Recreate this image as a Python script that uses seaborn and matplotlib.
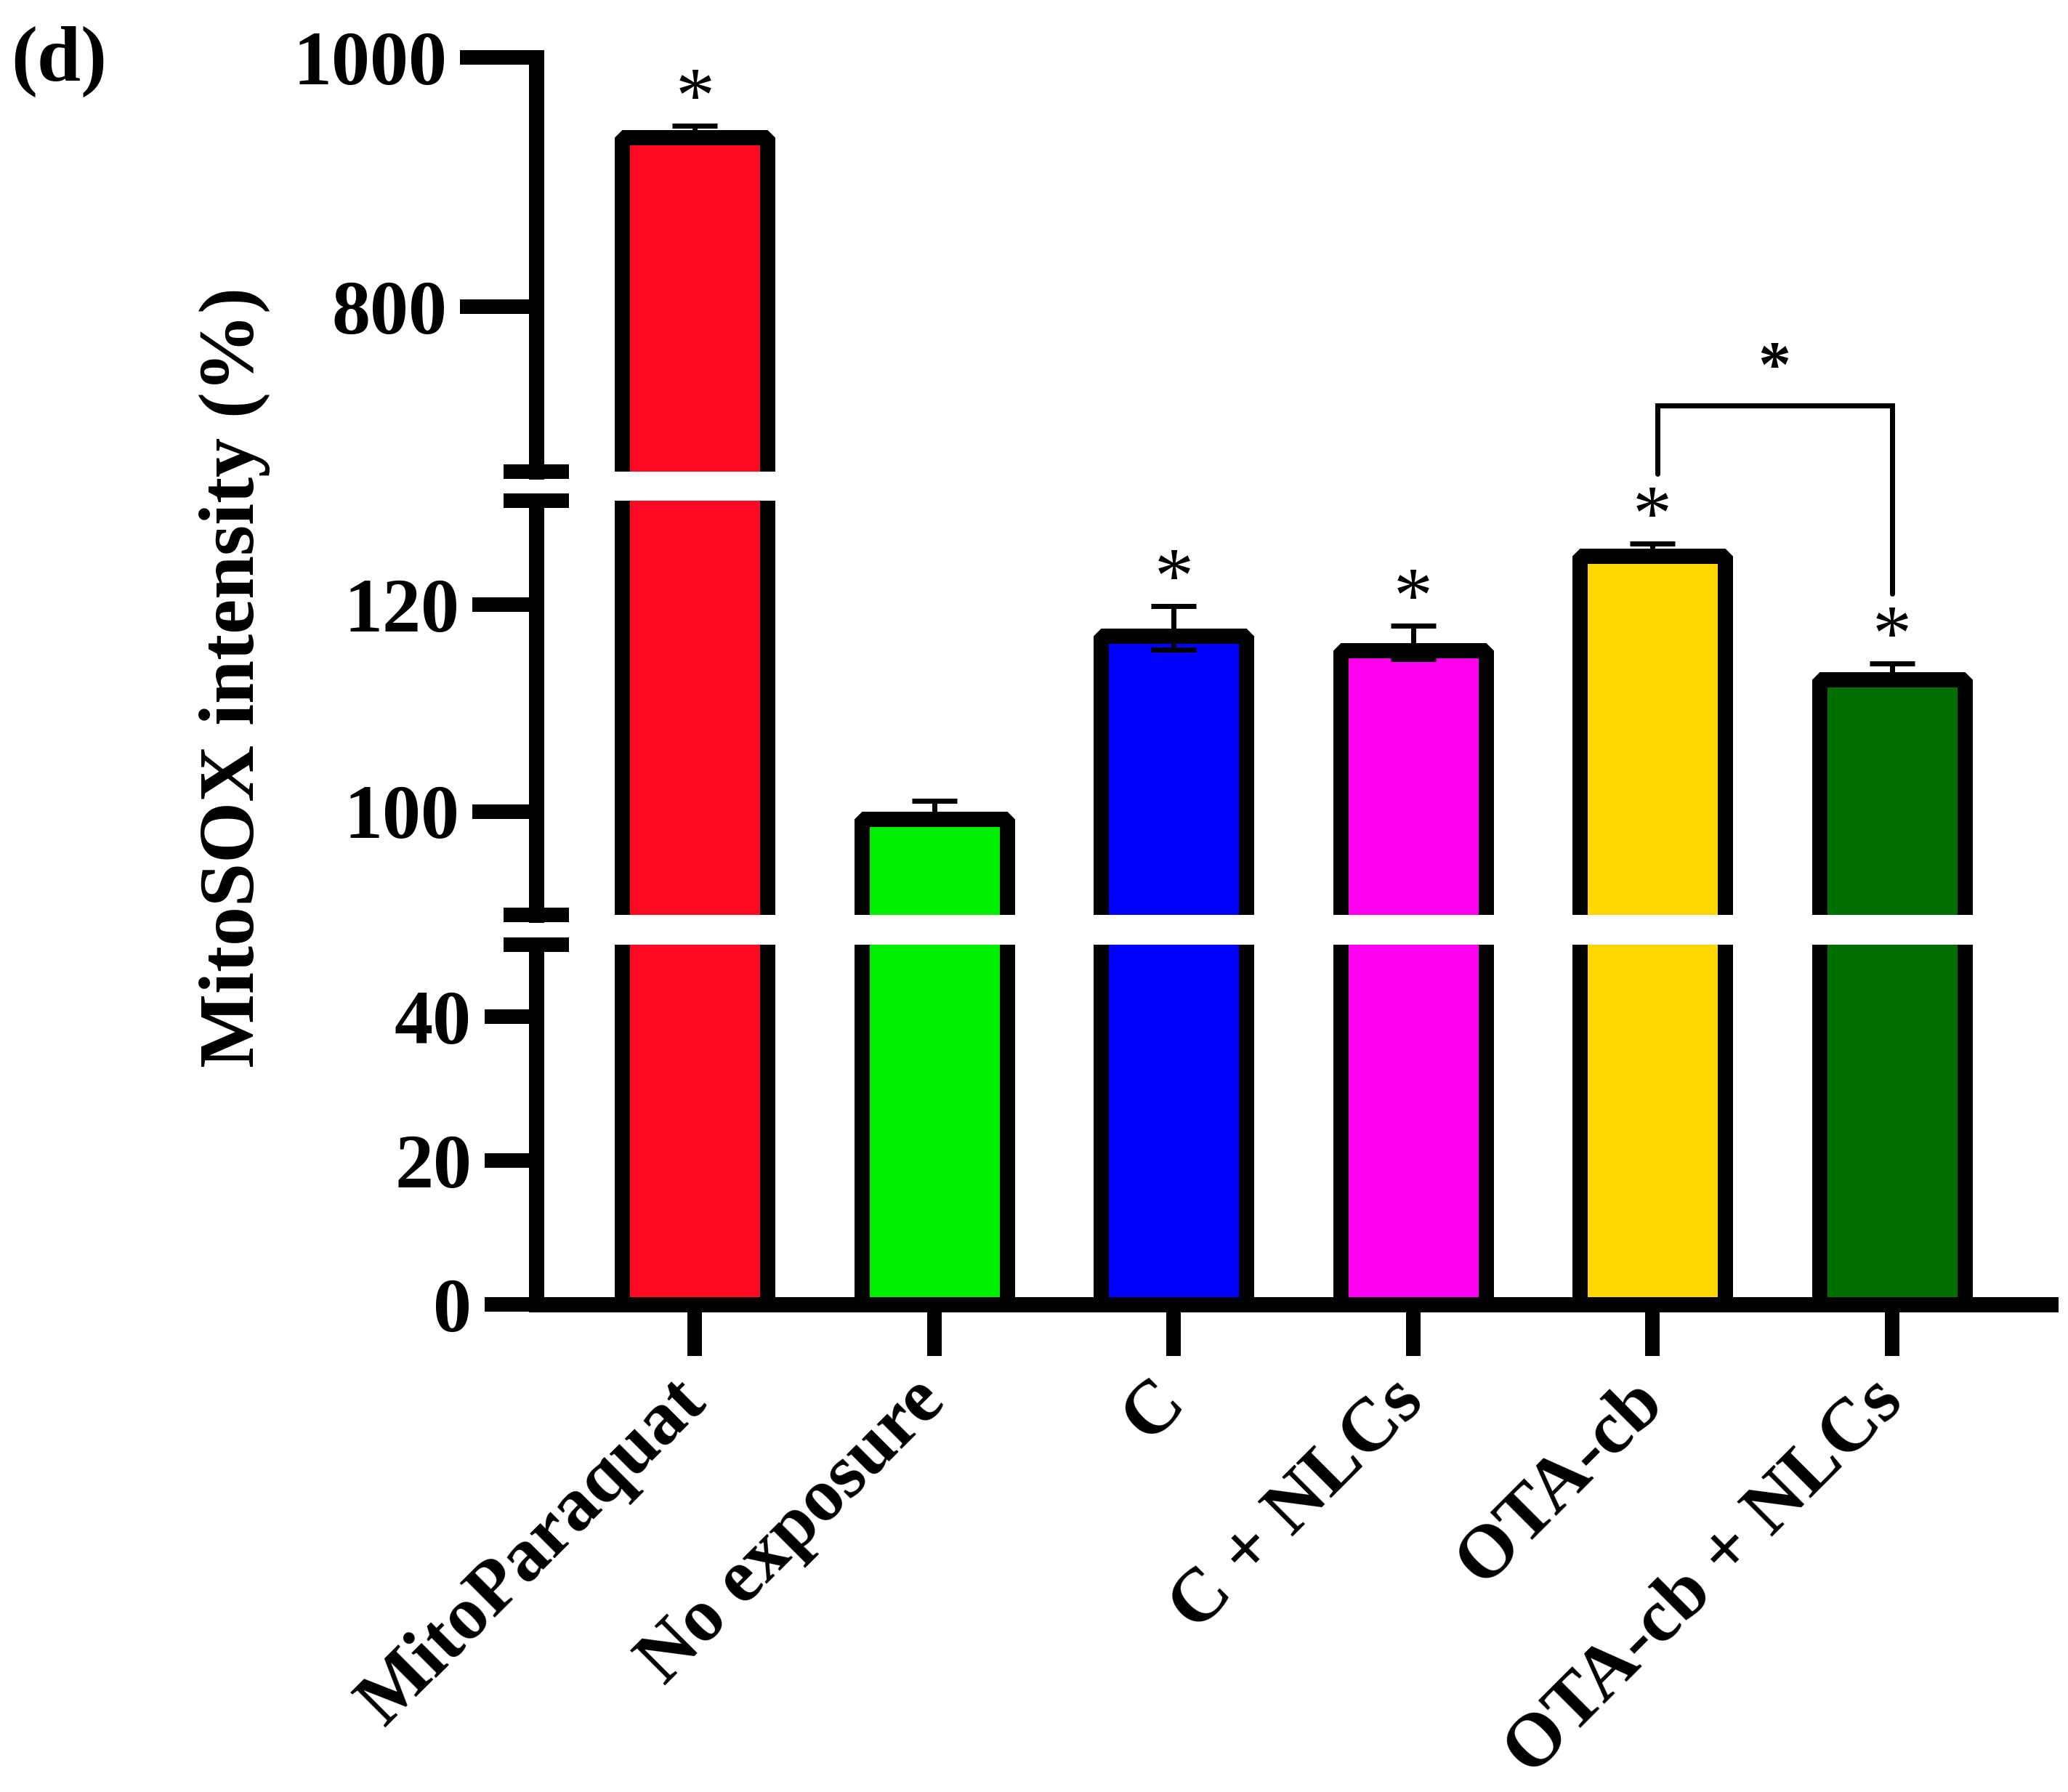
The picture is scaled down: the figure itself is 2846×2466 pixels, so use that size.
import matplotlib
matplotlib.use("Agg")
import matplotlib.pyplot as plt
from matplotlib.lines import Line2D
import seaborn as sns

# data (bars = mean, err = SEM)
groups = ["MitoParaquat", "No exposure", "C", "C + NLCs", "OTA-cb", "OTA-cb + NLCs"]
values = [942.0, 100.0, 117.7, 116.3, 125.4, 113.5]
errors = [3.6, 1.0, 2.1, 1.6, 0.45, 0.8]
stars = ["*", "", "*", "*", "*", "*"]
colors = ["#FF0A22", "#00EE00", "#0000FF", "#FF00EE", "#FFD700", "#006F00"]

# broken y axis: (ylim, ticks) per segment, top to bottom
segments = [((667, 1000), [800, 1000]),
            ((90, 130), [100, 120]),
            ((0, 50), [0, 20, 40])]

# comparison bracket between OTA-cb and OTA-cb + NLCs
pair = (4.02, 5)
bracket_top = 720        # in top segment units
bracket_legs = (132.6, 121.0)  # leg ends, middle segment units
bracket_star = 748

sns.set_style("ticks")
plt.rcParams["font.family"] = ["Liberation Serif", "DejaVu Serif"]
plt.rcParams["font.weight"] = "bold"
for k in ["text.color", "axes.edgecolor", "axes.labelcolor", "xtick.color", "ytick.color"]:
    plt.rcParams[k] = "black"

W, H, DPI = 2846, 2466, 72
fig = plt.figure(figsize=(W / DPI, H / DPI), dpi=DPI)

# axes boxes in pixels (top, bottom) from the top of the image
x0, x1 = 738, 2822
boxes = [(79.5, 649), (689, 1259), (1300, 1795)]
tick_len = [105, 88, 71]
EDGE = 21

axes = []
for (ylim, ticks), (t, b), tl in zip(segments, boxes, tick_len):
    ax = fig.add_axes([x0 / W, 1 - b / H, (x1 - x0) / W, (b - t) / H])
    ax.set_facecolor("none")
    sns.barplot(x=groups, y=values, hue=groups, palette=colors, legend=False,
                saturation=1, width=0.607, edgecolor="black", linewidth=EDGE,
                ax=ax, zorder=2)
    ax.set_xlim(-0.663, 5.663)
    ax.set_ylim(*ylim)
    ax.set_yticks(ticks)
    ax.set_xlabel("")
    ax.set_ylabel("")
    for s in ["top", "right", "bottom"]:
        ax.spines[s].set_visible(False)
    ax.spines["left"].set_linewidth(EDGE)
    ax.tick_params(axis="y", length=tl, width=20, pad=18, labelsize=106,
                   direction="out", color="black", labelcolor="black")
    ax.tick_params(axis="x", bottom=False, labelbottom=False)
    # border drawn inside the bar like in Prism: pull top in by half the edge
    px_per_unit = (b - t) / (ylim[1] - ylim[0])
    for p in ax.patches:
        p.set_height(p.get_height() - EDGE / 2 / px_per_unit)
        p.set_joinstyle("bevel")
    ax.errorbar(range(len(groups)), values, yerr=errors, fmt="none", ecolor="black",
                elinewidth=7, capsize=31, capthick=7, zorder=4)
    axes.append(ax)

top_ax, mid_ax, bot_ax = axes
top_ax.spines["left"].set_capstyle("projecting")

bot_ax.spines["bottom"].set_visible(True)
bot_ax.spines["bottom"].set_linewidth(EDGE)
bot_ax.tick_params(axis="x", bottom=True, labelbottom=True, length=71, width=20,
                   pad=48, labelsize=104, color="black", labelcolor="black")
bot_ax.set_xticks(range(len(groups)))
bot_ax.set_xticklabels(groups, rotation=45, ha="right", va="center",
                       rotation_mode="anchor")

# break marks on the y axis
half = 45 / (x1 - x0)
for ax, ends in [(top_ax, [0]), (mid_ax, [0, 1]), (bot_ax, [1])]:
    for yy in ends:
        ax.add_line(Line2D([-half, half], [yy, yy], transform=ax.transAxes,
                           color="black", lw=20, solid_capstyle="butt", clip_on=False))

# asterisks above bars
for i, (v, e, s) in enumerate(zip(values, errors, stars)):
    if not s:
        continue
    ax = top_ax if v > segments[1][0][1] else mid_ax
    ax.annotate(s, (i, v + e), xytext=(0, 6), textcoords="offset points",
                ha="center", va="baseline", fontsize=108, fontweight="normal",
                annotation_clip=False)

# bracket spans two segments, so draw it in figure coordinates
to_fig = fig.transFigure.inverted()
pts = [mid_ax.transData.transform((pair[0], bracket_legs[0])),
       top_ax.transData.transform((pair[0], bracket_top)),
       top_ax.transData.transform((pair[1], bracket_top)),
       mid_ax.transData.transform((pair[1], bracket_legs[1]))]
pts = [to_fig.transform(p) for p in pts]
fig.add_artist(Line2D([p[0] for p in pts], [p[1] for p in pts], color="black",
                      lw=7, solid_joinstyle="miter", transform=fig.transFigure))
top_ax.annotate("*", ((pair[0] + pair[1]) / 2, bracket_star), ha="center", va="center",
                fontsize=90, fontweight="bold", annotation_clip=False)

fig.text(323 / W, 1 - 932 / H, "MitoSOX intensity (%)", rotation=90,
         ha="center", va="center", fontsize=108)
fig.text(15 / W, 1 - 36 / H, "(d)", ha="left", va="top", fontsize=108)

fig.savefig("out.png", dpi=DPI, facecolor="white")
